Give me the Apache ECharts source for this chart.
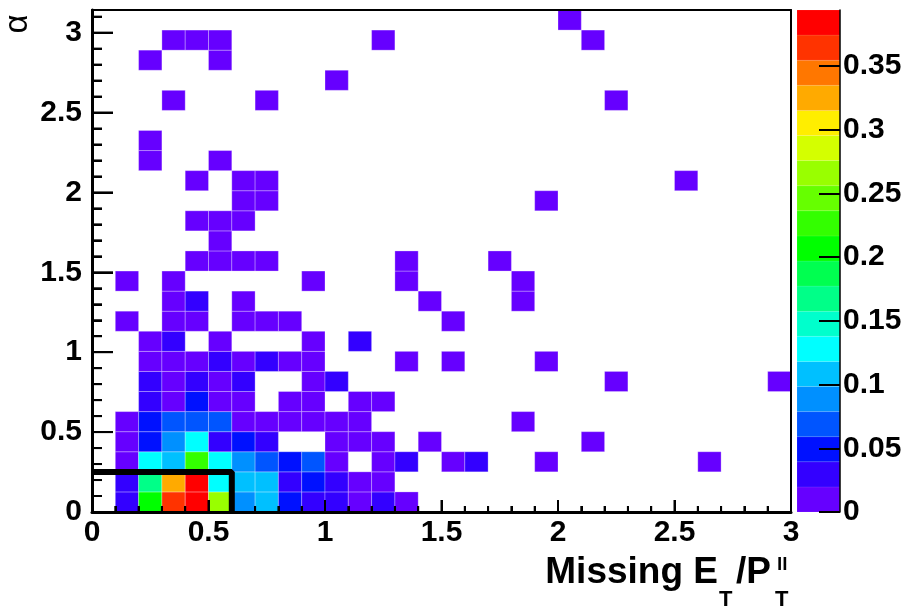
<!DOCTYPE html>
<html><head><meta charset="utf-8">
<script src="https://cdn.jsdelivr.net/npm/echarts@6/dist/echarts.min.js"></script>
<style>html,body{margin:0;padding:0;background:#fff}#c{width:912px;height:606px}</style>
</head><body><div id="c"></div>
<script>
// ---- data ----
const xBinWidth = 0.1;
const yBinCount = 25;
const yMax = Math.PI;
const xMax = 3;
const zMax = 0.394;
const xTicks = [0, 0.5, 1, 1.5, 2, 2.5, 3];
const yTicks = [0, 0.5, 1, 1.5, 2, 2.5, 3];
const zTicks = [0, 0.05, 0.1, 0.15, 0.2, 0.25, 0.3, 0.35];
const minorStep = 0.1;
const palette = ['#6600ff','#3300ff','#0011ff','#0055ff','#0090ff','#00c0ff','#00ffff','#00ffcc','#00ff88','#00ff50',
                 '#00ff00','#33ff00','#66ff00','#99ff00','#d4ff00','#ffee00','#ffaa00','#ff7700','#ff3300','#ff0000'];
// [xBin, yBin, value]
const cells = [
 [1,0,0.03],[2,0,0.207],[3,0,0.365],[4,0,0.394],[5,0,0.265],[6,0,0.09],[7,0,0.11],[8,0,0.05],[9,0,0.03],[10,0,0.03],[11,0,0.01],[12,0,0.03],[13,0,0.01],
 [1,1,0.03],[2,1,0.167],[3,1,0.325],[4,1,0.385],[5,1,0.13],[6,1,0.11],[7,1,0.11],[8,1,0.03],[9,1,0.05],[10,1,0.03],[11,1,0.01],[12,1,0.01],
 [1,2,0.01],[2,2,0.13],[3,2,0.11],[4,2,0.226],[5,2,0.13],[6,2,0.09],[7,2,0.07],[8,2,0.05],[9,2,0.07],[10,2,0.01],[12,2,0.01],[13,2,0.03],[15,2,0.01],[16,2,0.03],[19,2,0.01],[26,2,0.01],
 [1,3,0.01],[2,3,0.05],[3,3,0.09],[4,3,0.13],[5,3,0.03],[6,3,0.05],[7,3,0.03],[10,3,0.01],[11,3,0.01],[12,3,0.01],[14,3,0.01],[21,3,0.01],
 [1,4,0.01],[2,4,0.05],[3,4,0.07],[4,4,0.07],[5,4,0.07],[6,4,0.01],[7,4,0.01],[8,4,0.01],[9,4,0.01],[10,4,0.01],[11,4,0.01],[18,4,0.01],
 [2,5,0.03],[3,5,0.01],[4,5,0.05],[5,5,0.01],[6,5,0.01],[8,5,0.01],[9,5,0.01],[11,5,0.01],[12,5,0.01],
 [2,6,0.03],[3,6,0.01],[4,6,0.03],[5,6,0.01],[6,6,0.03],[9,6,0.01],[10,6,0.03],[22,6,0.01],[29,6,0.01],
 [2,7,0.01],[3,7,0.01],[4,7,0.01],[5,7,0.03],[6,7,0.01],[7,7,0.03],[8,7,0.01],[9,7,0.01],[13,7,0.01],[15,7,0.01],[19,7,0.01],
 [2,8,0.01],[3,8,0.03],[5,8,0.01],[9,8,0.01],[11,8,0.03],
 [1,9,0.01],[3,9,0.01],[4,9,0.01],[6,9,0.01],[7,9,0.01],[8,9,0.01],[15,9,0.01],
 [3,10,0.01],[4,10,0.03],[6,10,0.01],[14,10,0.01],[18,10,0.01],
 [1,11,0.01],[3,11,0.01],[9,11,0.01],[13,11,0.01],[18,11,0.01],
 [4,12,0.01],[5,12,0.01],[6,12,0.01],[7,12,0.01],[13,12,0.01],[17,12,0.01],
 [5,13,0.01],
 [4,14,0.01],[5,14,0.01],[6,14,0.01],
 [6,15,0.01],[7,15,0.01],[19,15,0.01],
 [4,16,0.01],[6,16,0.01],[7,16,0.01],[25,16,0.01],
 [2,17,0.01],[5,17,0.01],
 [2,18,0.01],
 [3,20,0.01],[7,20,0.01],[22,20,0.01],
 [10,21,0.01],
 [2,22,0.01],[5,22,0.01],
 [3,23,0.01],[4,23,0.01],[5,23,0.01],[12,23,0.01],[21,23,0.01],
 [20,24,0.01]
];
const cutLine = [[0, 0.25], [0.6, 0.25], [0.6, 0]];

// ---- chart ----
const yBinWidth = yMax / yBinCount;
const nBands = palette.length;
const bandWidth = zMax / nBands;
const cellData = cells.map(c => [(c[0] + 0.5) * xBinWidth, (c[1] + 0.5) * yBinWidth, c[2]]);
const bandData = palette.map((c, k) => [k * bandWidth, (k + 1) * bandWidth, k]);
const pieces = palette.map((c, k) => ({ gte: k * bandWidth, lt: (k + 1) * bandWidth, color: c }));
pieces[nBands - 1].lte = zMax + 1; delete pieces[nBands - 1].lt;
const steps = (maxV) => { const a = []; for (let i = 0; i * minorStep <= maxV + 1e-9; i++) a.push(Math.round(i * minorStep * 10) / 10); return a; };
const isMajor = (v, list) => list.some(t => Math.abs(t - v) < 1e-6) ? 1 : 0;
const xTickData = steps(xMax).map(v => [v, 0.0001, isMajor(v, xTicks)]);
const yTickData = steps(yMax).map(v => [0.0001, v, isMajor(v, yTicks)]);

const FONT = '"Liberation Sans", Arial, Helvetica, sans-serif';
const tickLabel = { color: '#000', fontSize: 30, fontWeight: 'bold', fontFamily: FONT };
const BLACK = '#000';
const TICK = { xMajor: 12, xMinor: 6, yMajor: 21, yMinor: 10, width: 2 };

function frameAxis(extra) {
  return Object.assign({
    type: 'value', gridIndex: 0, z: 5, splitLine: { show: false },
    axisLine: { show: false, onZero: false },
    axisTick: { show: false }, axisLabel: { show: false }
  }, extra);
}

const chart = echarts.init(document.getElementById('c'), null, { renderer: 'canvas' });
chart.setOption({
  animation: false,
  backgroundColor: '#fff',
  grid: [
    { left: 92, top: 10, right: 121, bottom: 94, show: false, outerBoundsMode: 'none', containLabel: false },
    { left: 797, top: 10, width: 43, bottom: 94, show: false, outerBoundsMode: 'none', containLabel: false }
  ],
  visualMap: { type: 'piecewise', show: false, seriesIndex: [0], dimension: 2, pieces: pieces },
  xAxis: [
    frameAxis({ position: 'bottom', min: 0, max: xMax, interval: 0.5,
      axisLine: { show: true, onZero: false, lineStyle: { color: BLACK, width: 3 } },
      axisTick: { show: true, inside: true, length: 12, lineStyle: { color: BLACK, width: 2 } },
      minorTick: { show: true, splitNumber: 5, length: 6, lineStyle: { color: BLACK, width: 2 } },
      axisLabel: Object.assign({ show: true, margin: 6, customValues: xTicks, formatter: v => String(v) }, tickLabel) }),
    frameAxis({ position: 'top', min: 0, max: xMax,
      axisLine: { show: true, onZero: false, lineStyle: { color: BLACK, width: 2 } } }),
    { type: 'value', gridIndex: 1, min: 0, max: 1, show: false }
  ],
  yAxis: [
    frameAxis({ position: 'left', min: 0, max: yMax, interval: 0.5,
      axisLine: { show: true, onZero: false, lineStyle: { color: BLACK, width: 3 } },
      axisTick: { show: true, inside: true, length: 21, lineStyle: { color: BLACK, width: 2 } },
      minorTick: { show: true, splitNumber: 5, length: 10, lineStyle: { color: BLACK, width: 2 } },
      axisLabel: Object.assign({ show: true, margin: 10, customValues: yTicks, formatter: v => String(v) }, tickLabel) }),
    frameAxis({ position: 'right', min: 0, max: yMax,
      axisLine: { show: true, onZero: false, lineStyle: { color: BLACK, width: 2 } } }),
    { type: 'value', gridIndex: 1, min: 0, max: zMax, interval: 0.05, position: 'right', z: 5,
      axisLine: { show: true, onZero: false, lineStyle: { color: BLACK, width: 1.5 } },
      axisTick: { show: true, inside: true, length: 21, customValues: zTicks, lineStyle: { color: BLACK, width: 2 } },
      axisLabel: Object.assign({ margin: 3, customValues: zTicks, formatter: v => String(v) }, tickLabel),
      splitLine: { show: false } }
  ],
  series: [
    { type: 'custom', name: 'cells', xAxisIndex: 0, yAxisIndex: 0, clip: true, data: cellData, z: 2,
      encode: { x: 0, y: 1 },
      renderItem: function (params, api) {
        const x = api.value(0), y = api.value(1);
        const p0 = api.coord([x - xBinWidth / 2, y - yBinWidth / 2]);
        const p1 = api.coord([x + xBinWidth / 2, y + yBinWidth / 2]);
        return { type: 'rect',
          shape: { x: p0[0], y: p1[1], width: p1[0] - p0[0], height: p0[1] - p1[1] },
          style: { fill: api.visual('color'), stroke: 'rgba(255,255,255,0.35)', lineWidth: 0.8 } };
      } },
    // x-axis ticks (inside, pointing up)
    { type: 'custom', name: 'xticks', xAxisIndex: 0, yAxisIndex: 0, data: xTickData, z: 4,
      encode: { x: 0, y: 1 },
      renderItem: function (params, api) {
        const p = api.coord([api.value(0), 0]);
        const len = api.value(2) ? TICK.xMajor : TICK.xMinor;
        return { type: 'rect', shape: { x: p[0] - TICK.width / 2, y: p[1] - len, width: TICK.width, height: len },
          style: { fill: BLACK } };
      } },
    // y-axis ticks (inside, pointing right)
    { type: 'custom', name: 'yticks', xAxisIndex: 0, yAxisIndex: 0, data: yTickData, z: 4,
      encode: { x: 0, y: 1 },
      renderItem: function (params, api) {
        const p = api.coord([0, api.value(1)]);
        const len = api.value(2) ? TICK.yMajor : TICK.yMinor;
        return { type: 'rect', shape: { x: p[0], y: p[1] - TICK.width / 2, width: len, height: TICK.width },
          style: { fill: BLACK } };
      } },
    { type: 'custom', name: 'colorbar', xAxisIndex: 2, yAxisIndex: 2, data: bandData, encode: { x: 2, y: 0 }, z: 2,
      renderItem: function (params, api) {
        const lo = api.value(0), hi = api.value(1), k = api.value(2);
        const p0 = api.coord([0, lo]);
        const p1 = api.coord([1, hi]);
        return { type: 'rect',
          shape: { x: p0[0], y: p1[1], width: p1[0] - p0[0], height: p0[1] - p1[1] },
          style: { fill: palette[k], stroke: 'rgba(255,255,255,0.15)', lineWidth: 0.6 } };
      } },
    { type: 'line', name: 'cut', xAxisIndex: 0, yAxisIndex: 0, data: cutLine, symbol: 'none', z: 10,
      lineStyle: { color: BLACK, width: 6 } }
  ],
  graphic: [
    { type: 'text', x: 18, y: 24, rotation: Math.PI / 2,
      style: { text: 'α', fill: BLACK, font: '33px ' + FONT, textAlign: 'center', textVerticalAlign: 'middle', align: 'center', verticalAlign: 'middle' } },
    { type: 'text', x: 718, y: 573,
      style: { text: 'Missing E', fill: BLACK, font: 'bold 37px ' + FONT, textAlign: 'right', textVerticalAlign: 'middle', align: 'right', verticalAlign: 'middle' } },
    { type: 'text', x: 719, y: 600,
      style: { text: 'T', fill: BLACK, font: 'bold 22px ' + FONT, textAlign: 'left', textVerticalAlign: 'middle', align: 'left', verticalAlign: 'middle' } },
    { type: 'text', x: 736, y: 573,
      style: { text: '/P', fill: BLACK, font: 'bold 37px ' + FONT, textAlign: 'left', textVerticalAlign: 'middle', align: 'left', verticalAlign: 'middle' } },
    { type: 'text', x: 777, y: 565,
      style: { text: 'll', fill: BLACK, font: 'bold 19px ' + FONT, textAlign: 'left', textVerticalAlign: 'middle', align: 'left', verticalAlign: 'middle' } },
    { type: 'text', x: 775, y: 600,
      style: { text: 'T', fill: BLACK, font: 'bold 22px ' + FONT, textAlign: 'left', textVerticalAlign: 'middle', align: 'left', verticalAlign: 'middle' } }
  ]
});
</script></body></html>
